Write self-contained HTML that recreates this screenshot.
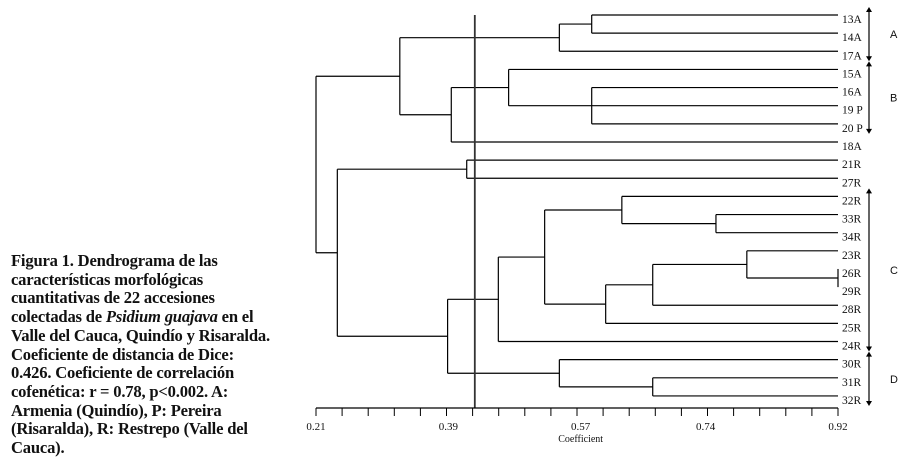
<!DOCTYPE html>
<html><head><meta charset="utf-8">
<style>
body{margin:0;background:#fff;width:908px;height:461px;overflow:hidden;position:relative;font-family:"Liberation Serif",serif;}
#caption{position:absolute;left:11px;top:252px;font-weight:bold;font-size:16.6px;line-height:18.7px;color:#111;white-space:nowrap;letter-spacing:-0.2px;}
svg{position:absolute;left:0;top:0;}
</style></head><body>
<div id="caption">Figura 1. Dendrograma de las<br>características morfológicas<br>cuantitativas de 22 accesiones<br>colectadas de <i>Psidium guajava</i> en el<br>Valle del Cauca, Quindío y Risaralda.<br>Coeficiente de distancia de Dice:<br>0.426. Coeficiente de correlación<br>cofenética: r = 0.78, p&lt;0.002. A:<br>Armenia (Quindío), P: Pereira<br>(Risaralda), R: Restrepo (Valle del<br>Cauca).</div>
<svg id="chart" width="908" height="461"></svg>
<script>
const leaves=["13A","14A","17A","15A","16A","19 P","20 P","18A","21R","27R","22R","33R","34R","23R","26R","29R","28R","25R","24R","30R","31R","32R"];
// tree: [height, children...]; leaves as indices
const tree=[0.21,
 [0.324,[0.541,[0.585,0,1],2],[0.394,[0.472,3,[0.585,4,5,6]],7]],
 [0.239,[0.415,8,9],[0.389,[0.458,[0.521,[0.626,10,[0.754,11,12]],[0.604,[0.668,[0.796,13,[0.92,14,15]],16],17]],18],[0.541,19,[0.668,20,21]]]]];
const tickLabels=["0.21","0.39","0.57","0.74","0.92"];
const tickValues=[0.21,0.39,0.57,0.74,0.92];
const cutValue=0.426;
const groupNames=["A","B","C","D"];
const groupStart=[0,3,10,19];
const groupEnd=[2,6,18,21];
const xMin=0.21,xMax=0.92;
const X=v=>316+(v-xMin)/(xMax-xMin)*522;
const Y=i=>15+i*18.14;
const svg=document.getElementById('chart');
const NS="http://www.w3.org/2000/svg";
function ln(x1,y1,x2,y2,name,w,c){const l=document.createElementNS(NS,'line');l.setAttribute('x1',x1);l.setAttribute('y1',y1);l.setAttribute('x2',x2);l.setAttribute('y2',y2);l.setAttribute('stroke',c||'#000');l.setAttribute('stroke-width',w||1.2);


svg.appendChild(l);return l;}
function tx(x,y,s,size,anchor,name,font){const t=document.createElementNS(NS,'text');t.setAttribute('x',x);t.setAttribute('y',y);t.setAttribute('font-size',size);t.setAttribute('font-family',font||'"Liberation Serif",serif');t.setAttribute('fill','#111');if(anchor)t.setAttribute('text-anchor',anchor);t.textContent=s;


svg.appendChild(t);return t;}
function draw(n){
 if(typeof n==='number'){return [X(xMax),Y(n)];}
 const h=n[0];const xs=X(h);const pts=n.slice(1).map(draw);
 const ys=pts.map(p=>p[1]);
 pts.forEach(p=>ln(xs,p[1],p[0],p[1],'branch-horizontal'));
 ln(xs,Math.min(...ys),xs,Math.max(...ys),'branch-vertical');
 return [xs,(Math.min(...ys)+Math.max(...ys))/2];
}
leaves.forEach((l,i)=>{tx(842,Y(i)+8,l,11.5,null,'leaf-label-'+l.replace(' ',''));});
draw(tree);
ln(X(cutValue),15,X(cutValue),408,'cut-off-line',1.8,'#333');
ln(X(xMin),408,X(xMax),408,'x-axis-line',1.2);
for(let k=0;k<=20;k++){const v=xMin+k*(xMax-xMin)/20;ln(X(v),408,X(v),416,'x-axis-tick',1);}
tickLabels.forEach((s,i)=>tx(X(tickValues[i]),430,s,11,'middle','x-tick-label'));
tx(X(0.57),442,"Coefficient",10,'middle','x-axis-title');
groupNames.forEach((g,i)=>{const x=869;const y1=Y(groupStart[i])-8,y2=Y(groupEnd[i])+10;
 ln(x,y1+4,x,y2-4,'group-arrow-'+g,1.2);
 [[y1,-1],[y2,1]].forEach(([y,d])=>{const p=document.createElementNS(NS,'polygon');p.setAttribute('points',`${x-3},${y-d*5} ${x+3},${y-d*5} ${x},${y}`);p.setAttribute('fill','#000');
 
 
 svg.appendChild(p);});
 tx(890,(y1+y2)/2+4,g,11,null,'group-label-'+g,'"Liberation Sans",sans-serif');});
</script>
</body></html>
